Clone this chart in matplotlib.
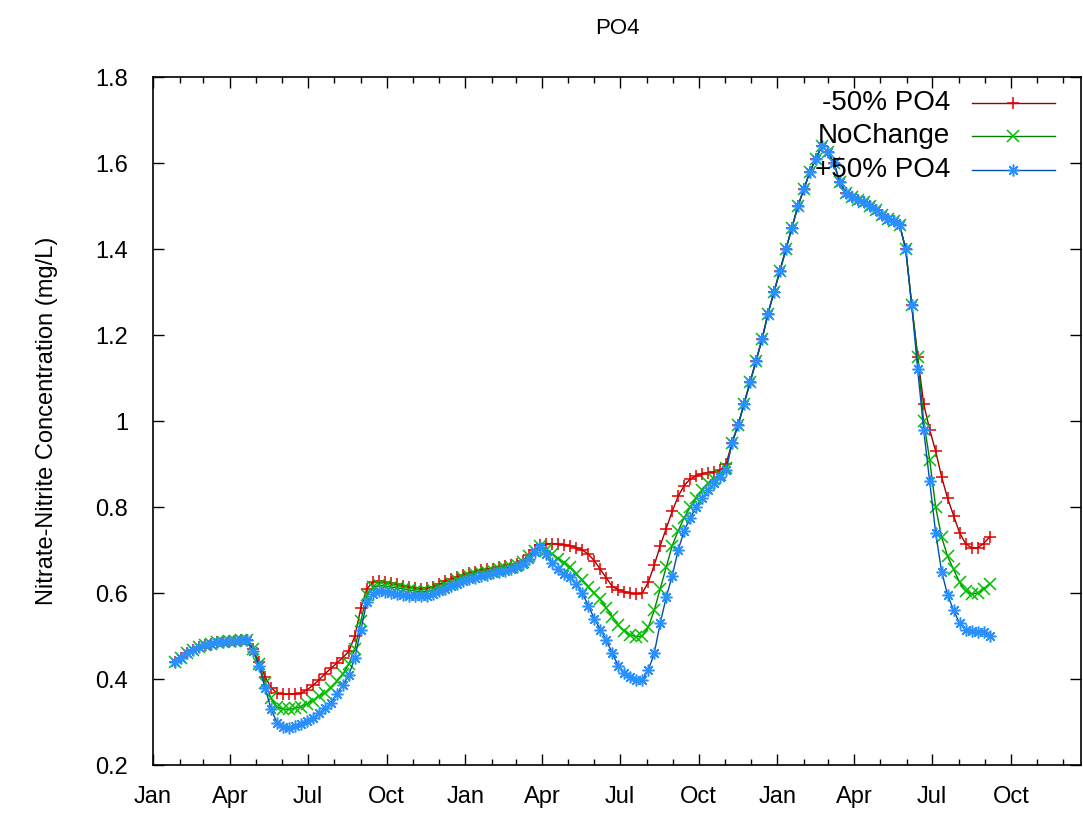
import matplotlib
matplotlib.use("Agg")
import matplotlib.pyplot as plt
import matplotlib.dates as mdates
import numpy as np
import pandas as pd

plt.rcParams["font.family"] = ["Liberation Sans", "DejaVu Sans"]

# weekly model output dates
dates = pd.date_range("2009-01-27", periods=137, freq="7D")

minus50 = [
    0.44, 0.45, 0.46, 0.468, 0.474, 0.478, 0.482, 0.485, 0.487, 0.488,
    0.489, 0.49, 0.49, 0.47, 0.44, 0.405, 0.38, 0.367, 0.365, 0.365,
    0.365, 0.367, 0.375, 0.385, 0.398, 0.412, 0.425, 0.437, 0.45, 0.465,
    0.50, 0.565, 0.61, 0.625, 0.628, 0.625, 0.623, 0.62, 0.617, 0.615,
    0.612, 0.61, 0.612, 0.615, 0.62, 0.627, 0.632, 0.637, 0.642, 0.646,
    0.65, 0.653, 0.655, 0.657, 0.66, 0.662, 0.665, 0.668, 0.675, 0.688,
    0.70, 0.712, 0.715, 0.715, 0.714, 0.712, 0.71, 0.705, 0.70, 0.69,
    0.675, 0.655, 0.635, 0.615, 0.608, 0.603, 0.60, 0.598, 0.60, 0.625,
    0.665, 0.71, 0.75, 0.79, 0.825, 0.85, 0.865, 0.872, 0.877, 0.88,
    0.882, 0.885, 0.90, 0.95, 0.99, 1.04, 1.09, 1.14, 1.19, 1.25,
    1.30, 1.35, 1.40, 1.45, 1.50, 1.54, 1.58, 1.61, 1.64, 1.625,
    1.60, 1.555, 1.53, 1.52, 1.515, 1.51, 1.50, 1.49, 1.48, 1.47,
    1.465, 1.455, 1.40, 1.27, 1.15, 1.04, 0.98, 0.93, 0.87, 0.82,
    0.78, 0.74, 0.715, 0.705, 0.705, 0.715, 0.73,
]

no_change = [
    0.44, 0.45, 0.46, 0.468, 0.474, 0.478, 0.482, 0.485, 0.487, 0.488,
    0.489, 0.49, 0.49, 0.47, 0.435, 0.39, 0.355, 0.335, 0.33, 0.33,
    0.332, 0.336, 0.342, 0.35, 0.36, 0.368, 0.38, 0.395, 0.412, 0.435,
    0.47, 0.535, 0.595, 0.613, 0.618, 0.616, 0.614, 0.612, 0.61, 0.607,
    0.605, 0.603, 0.603, 0.606, 0.612, 0.618, 0.624, 0.63, 0.635, 0.64,
    0.644, 0.647, 0.65, 0.652, 0.655, 0.658, 0.661, 0.665, 0.672, 0.685,
    0.698, 0.71, 0.70, 0.69, 0.68, 0.67, 0.66, 0.645, 0.63, 0.615,
    0.60, 0.585, 0.565, 0.545, 0.525, 0.512, 0.503, 0.498, 0.50, 0.52,
    0.56, 0.61, 0.66, 0.71, 0.745, 0.775, 0.80, 0.82, 0.84, 0.855,
    0.865, 0.875, 0.89, 0.95, 0.99, 1.04, 1.09, 1.14, 1.19, 1.25,
    1.30, 1.35, 1.40, 1.45, 1.50, 1.54, 1.58, 1.61, 1.64, 1.625,
    1.60, 1.555, 1.53, 1.52, 1.515, 1.51, 1.50, 1.49, 1.48, 1.47,
    1.465, 1.455, 1.40, 1.27, 1.15, 1.00, 0.91, 0.80, 0.73, 0.685,
    0.655, 0.625, 0.605, 0.598, 0.60, 0.61, 0.62,
]

plus50 = [
    0.44, 0.45, 0.46, 0.468, 0.474, 0.478, 0.482, 0.485, 0.487, 0.488,
    0.489, 0.49, 0.49, 0.465, 0.43, 0.38, 0.33, 0.298, 0.288, 0.287,
    0.29, 0.295, 0.302, 0.31, 0.32, 0.332, 0.345, 0.365, 0.385, 0.41,
    0.45, 0.515, 0.58, 0.598, 0.605, 0.603, 0.60, 0.598, 0.596, 0.594,
    0.593, 0.592, 0.594, 0.598, 0.604, 0.61, 0.616, 0.622, 0.627, 0.632,
    0.636, 0.64, 0.643, 0.646, 0.649, 0.652, 0.655, 0.66, 0.668, 0.68,
    0.695, 0.708, 0.69, 0.67, 0.655, 0.645, 0.637, 0.62, 0.60, 0.57,
    0.54, 0.515, 0.49, 0.46, 0.43, 0.415, 0.405, 0.398, 0.398, 0.42,
    0.46, 0.53, 0.59, 0.64, 0.70, 0.745, 0.775, 0.80, 0.82, 0.84,
    0.855, 0.87, 0.885, 0.95, 0.99, 1.04, 1.09, 1.14, 1.19, 1.25,
    1.30, 1.35, 1.40, 1.45, 1.50, 1.54, 1.58, 1.61, 1.64, 1.625,
    1.60, 1.555, 1.53, 1.52, 1.515, 1.51, 1.50, 1.49, 1.48, 1.47,
    1.465, 1.455, 1.40, 1.27, 1.12, 0.98, 0.86, 0.74, 0.65, 0.595,
    0.56, 0.53, 0.515, 0.512, 0.51, 0.51, 0.50,
]

series = [
    ("-50% PO4", minus50, "#e00000", "#a00000", "+"),
    ("NoChange", no_change, "#00c000", "#008000", "x"),
    ("+50% PO4", plus50, "#2a90ff", "#0050b0", (8, 2, 0)),
]

fig = plt.figure(figsize=(10.83, 8.15), dpi=100)
ax = fig.add_axes([0.1413, 0.0613, 0.8569, 0.8442])

for label, vals, mcol, lcol, mk in series:
    ax.plot(dates, vals, color=lcol, lw=1.0, marker=mk, ms=8.5, mew=1.1,
            mec=mcol, mfc="none")

ax.set_xlim(pd.Timestamp("2009-01-01"), pd.Timestamp("2009-01-01") + pd.Timedelta(days=1085))
ax.set_ylim(0.2, 1.8)
ax.set_yticks(np.arange(0.2, 1.81, 0.2))
ax.yaxis.set_major_formatter(matplotlib.ticker.FuncFormatter(lambda v, p: "%g" % round(v, 2)))
ax.xaxis.set_major_locator(mdates.MonthLocator(bymonth=[1, 4, 7, 10]))
ax.xaxis.set_minor_locator(mdates.MonthLocator())
ax.xaxis.set_major_formatter(mdates.DateFormatter("%b"))

ax.tick_params(which="both", direction="in", top=True, right=True, labelsize=17, colors="black")
ax.tick_params(which="major", length=8, width=1.0)
ax.tick_params(which="minor", length=4, width=1.0)
ax.tick_params(axis="y", pad=18)
ax.tick_params(axis="x", pad=15)
for s in ax.spines.values():
    s.set_linewidth(1.2)

ax.set_ylabel("Nitrate-Nitrite Concentration (mg/L)", fontsize=17, labelpad=27)
ax.set_title("PO4", fontsize=16, pad=31)

# gnuplot-style key, text right-justified with sample to the right
key_y = [0.962, 0.914, 0.865]
for (label, vals, mcol, lcol, mk), ky in zip(series, key_y):
    ax.text(0.859, ky, label, transform=ax.transAxes, ha="right", va="center", fontsize=20)
    ax.plot([0.8825, 0.972], [ky, ky], transform=ax.transAxes, color=lcol, lw=1.0, clip_on=False)
    ax.plot([0.927], [ky], transform=ax.transAxes, marker=mk, ms=8.5, mew=1.1, mec=mcol,
            mfc="none", clip_on=False)

fig.savefig("out.png", dpi=100)
